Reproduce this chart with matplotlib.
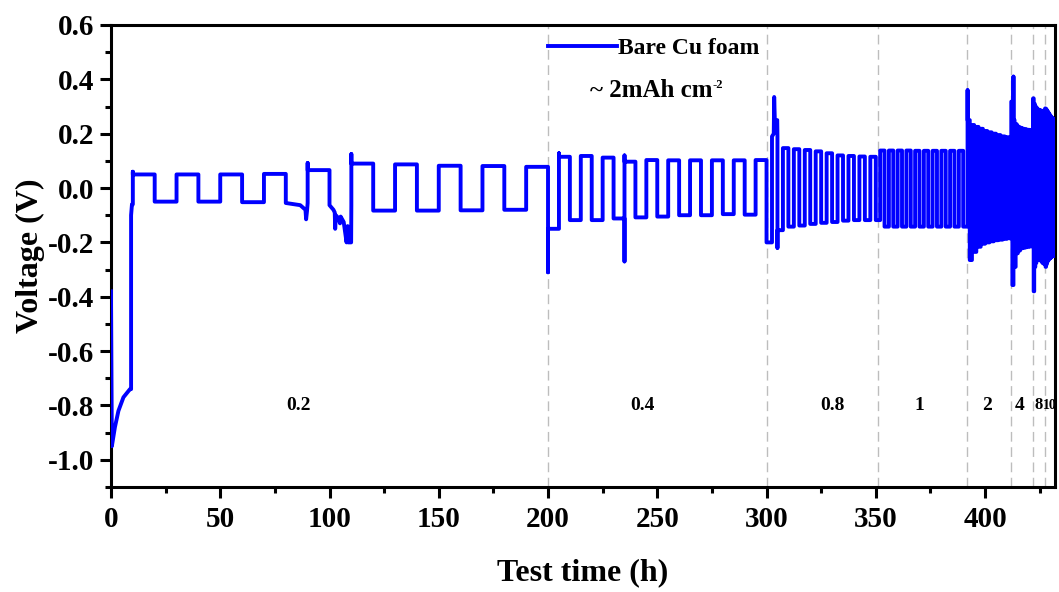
import matplotlib
matplotlib.use('Agg')
import matplotlib.pyplot as plt
from matplotlib.ticker import MultipleLocator
from matplotlib.lines import Line2D

plt.rcParams['font.family'] = ['Liberation Serif', 'DejaVu Serif']
plt.rcParams['font.weight'] = 'bold'
plt.rcParams['axes.unicode_minus'] = False

# Ступени по плотности тока: начало (ч), длительность полуцикла (ч),
# уровни заряда / разряда (В), с какого полуцикла начинается
seg_start = [10, 200, 300, 350, 392, 412, 422, 427.5]
seg_half = [10, 5, 2.5, 2, 1, 0.5, 0.25, 0.2]
seg_first = ['pos', 'neg', 'neg', 'neg', 'pos', 'pos', 'pos', 'pos']

pos_02 = [0.05, 0.05, 0.05, 0.052, 0.066, 0.09, 0.087, 0.082, 0.081, 0.078]
neg_02 = [-0.05, -0.05, -0.052, -0.055, -0.063, -0.083, -0.083, -0.082, -0.08]
pos_04 = [0.115, 0.118, 0.112, 0.097, 0.103, 0.102, 0.102, 0.102, 0.102, 0.103]
neg_04 = [-0.15, -0.118, -0.118, -0.112, -0.108, -0.105, -0.1, -0.1, -0.096, -0.098]
pos_08 = [0.19, 0.147, 0.143, 0.14, 0.135, 0.128, 0.12, 0.118, 0.116, 0.115]
neg_08 = [-0.2, -0.155, -0.142, -0.138, -0.132, -0.128, -0.125, -0.12, -0.118, -0.118]
pos_1 = [0.138, 0.138, 0.138, 0.138, 0.137, 0.137, 0.137, 0.137, 0.137, 0.137]
neg_1 = [-0.118, -0.142, -0.142, -0.142, -0.142, -0.142, -0.142, -0.142, -0.142, -0.142, -0.142]
pos_2 = [0.25, 0.232, 0.225, 0.218, 0.21, 0.205, 0.2, 0.195, 0.19, 0.187]
neg_2 = [-0.265, -0.235, -0.216, -0.205, -0.2, -0.196, -0.192, -0.19, -0.187, -0.185]
pos_4 = [0.318, 0.25, 0.235, 0.226, 0.222, 0.219, 0.217, 0.215, 0.214, 0.212]
neg_4 = [-0.357, -0.29, -0.24, -0.23, -0.222, -0.22, -0.218, -0.216, -0.215, -0.214]
pos_8 = [0.33, 0.31, 0.3, 0.295, 0.29, 0.288, 0.286, 0.285, 0.284, 0.282, 0.28]
neg_8 = [-0.38, -0.29, -0.275, -0.265, -0.262, -0.262, -0.265, -0.27, -0.275, -0.278, -0.28]
pos_10 = [0.293, 0.29, 0.285, 0.28, 0.275, 0.27, 0.265, 0.26, 0.257, 0.255, 0.25, 0.248]
neg_10 = [-0.29, -0.28, -0.27, -0.265, -0.26, -0.258, -0.255, -0.252, -0.25, -0.25, -0.248, -0.246]

seg_pos = [pos_02, pos_04, pos_08, pos_1, pos_2, pos_4, pos_8, pos_10]
seg_neg = [neg_02, neg_04, neg_08, neg_1, neg_2, neg_4, neg_8, neg_10]

# формирование, провалы и всплески
extra_t = [0, 0.4, 1.8, 3.4, 5.7, 8.7, 9.2, 9.2, 9.6, 10, 10,
           86.6, 89.0, 89.3, 89.7, 90,
           101.8, 102.4, 102.6, 102.9, 104, 104.8, 105.1, 106.5, 107.8, 108.3, 108.6, 109.9, 110,
           200, 205, 235, 235,
           303.3, 303.5, 303.8, 304.9, 305,
           392, 413]
extra_v = [-0.38, -0.95, -0.88, -0.82, -0.77, -0.74, -0.74, -0.10, -0.06, -0.06, 0.06,
           -0.063, -0.08, -0.115, -0.085, 0.092,
           -0.08, -0.09, -0.15, -0.1, -0.11, -0.13, -0.105, -0.125, -0.2, -0.14, -0.2, -0.2, 0.125,
           -0.31, 0.128, -0.27, 0.12,
           0.2, 0.335, 0.25, 0.25, -0.22,
           0.36, 0.41]

bounds = [200, 300, 351, 391.7, 411.8, 421.9, 427.4]
rate_labels = ['0.2', '0.4', '0.8', '1', '2', '4', '8', '10']
rate_x = [86, 243, 330, 370, 401, 416, 424.7, 429.6]
rate_size = [14, 14, 14, 14, 14, 14, 12, 10]

# собрать ступенчатую кривую
pts = []
for s, h, f, p, n in zip(seg_start, seg_half, seg_first, seg_pos, seg_neg):
    a, b = (p, n) if f == 'pos' else (n, p)
    levels = []
    for k in range(len(p) + len(n)):
        levels.append(a[k // 2] if k % 2 == 0 else b[k // 2])
    for k, v in enumerate(levels):
        t0 = round(s + k * h, 6)
        t1 = round(s + (k + 1) * h, 6)
        pts.append((t0, 2, v))
        pts.append((t1, 0, v))
for t, v in zip(extra_t, extra_v):
    pts.append((t, 1, v))
pts.sort(key=lambda q: (q[0], q[1]))
time = [q[0] for q in pts]
volt = [q[2] for q in pts]

fig = plt.figure(figsize=(10.59, 5.92), dpi=100)
ax = fig.add_axes([0.1048, 0.1774, 0.8914, 0.7804])

for b in bounds:
    ax.axvline(b, color='#bdbdbd', linestyle=(0, (7, 4)), linewidth=1.0, zorder=1)

ax.plot(time, volt, color='#0000ff', linewidth=2.8, zorder=3, solid_joinstyle='round')

for lab, x, fs in zip(rate_labels, rate_x, rate_size):
    ax.text(x, -0.8, lab, fontsize=fs, fontweight='bold', ha='center', va='center')

handle = Line2D([], [], color='#0000ff', linewidth=2.8)
ax.legend([handle], ['Bare Cu foam'], loc='upper left', bbox_to_anchor=(0.463, 0.972),
          frameon=False, handlelength=2.9, handletextpad=0.05,
          borderpad=0, borderaxespad=0, prop={'weight': 'bold', 'size': 17})
t1 = ax.text(219.4, 0.36, '~ 2mAh cm', fontsize=18, fontweight='bold', ha='left', va='center')
ax.annotate('-2', xy=(1.0, 0.72), xycoords=t1, fontsize=9, fontweight='bold',
            ha='left', va='center')

ax.set_xlim(0, 432)
ax.set_ylim(-1.1, 0.6)
ax.xaxis.set_major_locator(MultipleLocator(50))
ax.xaxis.set_minor_locator(MultipleLocator(25))
ax.yaxis.set_major_locator(MultipleLocator(0.2))
ax.yaxis.set_minor_locator(MultipleLocator(0.1))
ax.yaxis.set_major_formatter(plt.FuncFormatter(lambda v, p: f'{v:.1f}'))

ax.tick_params(which='both', direction='out', width=2.2, labelsize=21, top=False, right=False)
ax.tick_params(which='major', length=8)
ax.tick_params(which='minor', length=4)
ax.tick_params(axis='x', pad=6)
ax.tick_params(axis='y', pad=4)
for sp in ax.spines.values():
    sp.set_linewidth(2.2)

ax.set_xlabel('Test time (h)', fontsize=23, fontweight='bold', labelpad=18)
ax.set_ylabel('Voltage (V)', fontsize=23, fontweight='bold', labelpad=2)

plt.savefig('out.png', dpi=100)
